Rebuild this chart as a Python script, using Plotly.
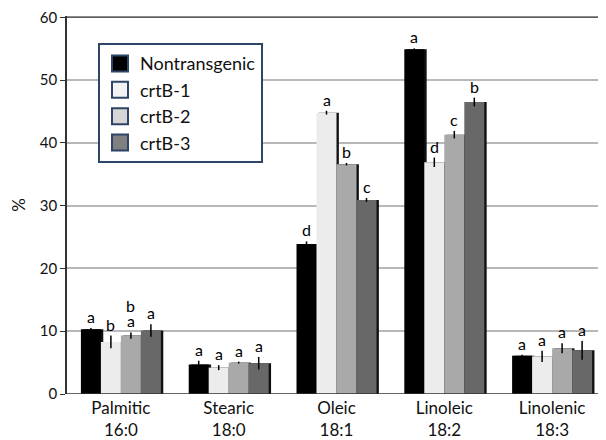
import plotly.graph_objects as go

categories = ["Palmitic<br>16:0", "Stearic<br>18:0", "Oleic<br>18:1", "Linoleic<br>18:2", "Linolenic<br>18:3"]
series_names = ["Nontransgenic", "crtB-1", "crtB-2", "crtB-3"]

nontransgenic = [10.3, 4.7, 23.9, 54.9, 6.1]
crtb1 = [8.3, 4.2, 44.8, 36.9, 6.0]
crtb2 = [9.3, 5.0, 36.6, 41.3, 7.3]
crtb3 = [10.1, 4.9, 30.9, 46.5, 6.95]

err_non = [0.2, 0.6, 0.4, 0.15, 0.15]
err_b1 = [1.0, 0.4, 0.3, 0.75, 0.9]
err_b2 = [0.5, 0.15, 0.2, 0.6, 0.8]
err_b3 = [1.0, 1.0, 0.3, 0.7, 1.5]

letters_non = ["a", "a", "d", "a", "a"]
letters_b1 = ["b", "a", "a", "d", "a"]
letters_b2 = ["a|b", "a", "b", "c", "a"]
letters_b3 = ["a", "a", "c", "b", "a"]

y_ticks = [0, 10, 20, 30, 40, 50, 60]

bar_colors = ["#000000", "#ececec", "#a9a9a9", "#686868"]
legend_colors = ["#000000", "#f2f2f2", "#d6d6d6", "#808080"]

values = [nontransgenic, crtb1, crtb2, crtb3]
errors = [err_non, err_b1, err_b2, err_b3]
letters = [letters_non, letters_b1, letters_b2, letters_b3]

xpos = list(range(len(categories)))
bw = 0.1855
start = -2 * bw
shadow_shift = 0.022

fig = go.Figure()

# shadows
for k in range(4):
    fig.add_trace(go.Bar(
        x=xpos, y=values[k], width=bw, offset=start + k * bw + shadow_shift,
        marker=dict(color="#111111", line=dict(width=0)),
        showlegend=False, hoverinfo="skip"))

# main bars
for k in range(4):
    fig.add_trace(go.Bar(
        x=xpos, y=values[k], width=bw, offset=start + k * bw,
        marker=dict(color=bar_colors[k], line=dict(width=0)),
        error_y=dict(type="data", array=errors[k], visible=True,
                     color="#000000", thickness=1.5, width=0),
        showlegend=False, name=series_names[k]))

# letters
for k in range(4):
    for i in range(len(categories)):
        parts = letters[k][i].split("|")
        for j, p in enumerate(parts):
            fig.add_annotation(
                x=xpos[i] + start + k * bw + bw / 2,
                y=values[k][i] + errors[k][i],
                text=p, showarrow=False, yanchor="bottom",
                yshift=j * 15, font=dict(size=16, color="#000000"))

# legend entries
for k in range(4):
    fig.add_trace(go.Scatter(
        x=[None], y=[None], name=series_names[k], mode="markers",
        marker=dict(symbol="square", size=16, color=legend_colors[k],
                    line=dict(color="#2d4566", width=2)),
        showlegend=True))

fig.update_layout(
    width=598, height=432,
    margin=dict(l=59, r=0, t=7.7, b=46, autoexpand=False),
    paper_bgcolor="white", plot_bgcolor="white",
    barmode="overlay",
    font=dict(family="Lato, Open Sans, sans-serif", size=15, color="#111111"),
    legend=dict(x=0.0575, y=0.928, xanchor="left", yanchor="top",
                bordercolor="#2d4566", borderwidth=2, bgcolor="white",
                font=dict(size=18), traceorder="normal",
                itemsizing="trace", tracegroupgap=0),
    xaxis=dict(range=[-0.5, 4.5], tickmode="array", tickvals=xpos,
               ticktext=categories, showgrid=False, zeroline=False,
               showline=False, ticks="", tickfont=dict(size=17),
               ticklabelstandoff=2, ticklabeloverflow="allow",
               automargin=False),
    yaxis=dict(range=[0, 60.2], tickmode="array", tickvals=y_ticks,
               showgrid=True, gridcolor="#b8b8b8",
               gridwidth=1.5, zeroline=False, showline=True,
               linecolor="#333333", linewidth=1.5, ticks="outside",
               ticklen=5, tickcolor="#333333", tickfont=dict(size=15),
               ticklabeloverflow="allow", automargin=False,
               title=dict(text="%", font=dict(size=17), standoff=12)),
)

fig.add_hline(y=y_ticks[-1], line=dict(color="#606060", width=1.5))
fig.add_hline(y=y_ticks[0], line=dict(color="#333333", width=1.5))

fig.write_html("out.html")
